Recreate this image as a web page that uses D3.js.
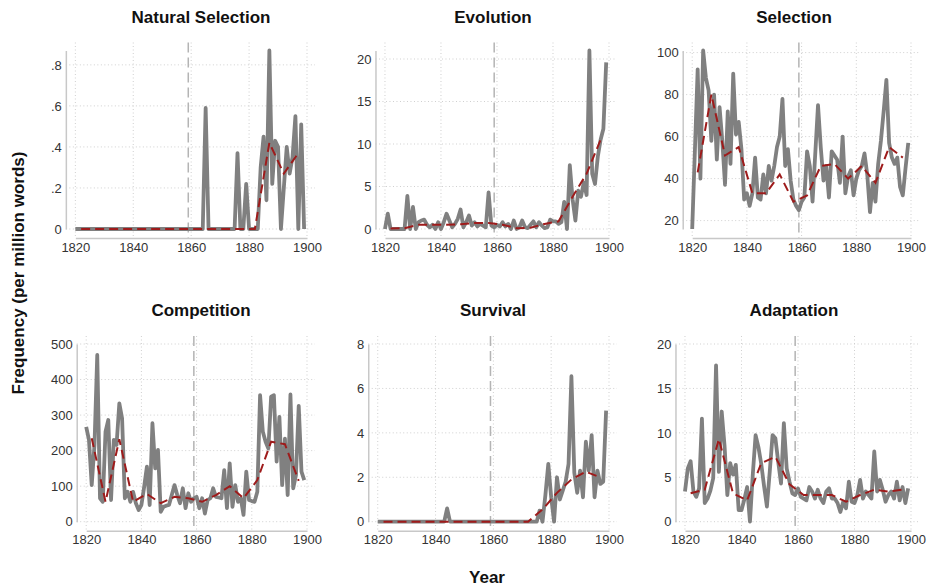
<!DOCTYPE html>
<html>
<head>
<meta charset="utf-8">
<script src="https://cdn.jsdelivr.net/npm/d3@7"></script>
<style>
body { margin: 0; background: #fff; }
text { font-family: Arial, "Liberation Sans", sans-serif; }
</style>
</head>
<body>
<div id="chartArea"></div>
<script>
// yearly frequencies, 1820-1899 (one row per decade)
var years = d3.range(1820, 1900);
// smoothed curve, 5-year bins
var smoothYears = d3.range(1822, 1900, 5);
var xTicks = [1820, 1840, 1860, 1880, 1900];
var originYear = 1859;

var natSel = [
    0, 0, 0, 0, 0, 0, 0, 0, 0, 0,
    0, 0, 0, 0, 0, 0, 0, 0, 0, 0,
    0, 0, 0, 0, 0, 0, 0, 0, 0, 0,
    0, 0, 0, 0, 0, 0, 0, 0, 0, 0,
    0, 0, 0, 0, 0, 0.59, 0, 0, 0, 0,
    0, 0, 0, 0, 0, 0, 0.37, 0, 0, 0.22,
    0, 0, 0, 0, 0.30, 0.45, 0.14, 0.87, 0.22, 0.43,
    0.40, 0, 0.20, 0.40, 0.27, 0.35, 0.55, 0, 0.51, 0
];
var evolution = [
    0, 1.8, 0, 0, 0, 0, 0, 0, 3.9, 0,
    2.6, 0, 0.8, 1.0, 1.1, 0.5, 0.2, 0.5, 0, 0.8,
    0, 0.8, 1.8, 1.0, 0.2, 0.6, 1.2, 2.3, 0.2, 0.8,
    1.6, 0.4, 0.8, 0.3, 0.6, 0.4, 0.2, 4.3, 0.4, 0.2,
    0.5, 0.3, 0.8, 0.3, 0.6, 0, 1.0, 0, 0.2, 1.0,
    0.2, 0.1, 0.5, 0.9, 0.2, 0.8, 0.4, 0.1, 0.2, 1.1,
    0.9, 0.9, 0.6, 0.8, 3.2, 0, 7.5, 3.5, 1.0, 4.5,
    3.8, 5.5, 4.0, 21, 6.5, 5.3, 8.5, 10.5, 11.8, 19.6
];
var selection = [
    16, 54, 92, 40, 101, 88, 82, 58, 80, 49,
    74, 58, 37, 72, 47, 90, 61, 67, 54, 30,
    33, 27, 33, 50, 31, 30, 42, 33, 46, 39,
    46, 55, 60, 78, 46, 54, 39, 30, 27, 25,
    29, 31, 53, 46, 29, 52, 75, 55, 39, 46,
    31, 53, 51, 49, 38, 60, 33, 41, 44, 32,
    40, 44, 46, 52, 42, 24, 38, 29, 47, 58,
    72, 87, 57, 50, 47, 50, 36, 32, 45, 57
];
var competition = [
    267, 230, 103, 216, 469, 66, 56, 253, 286, 61,
    230, 216, 333, 291, 66, 84, 56, 84, 52, 33,
    47, 98, 155, 47, 277, 150, 202, 28, 42, 45,
    47, 75, 103, 75, 52, 94, 38, 80, 56, 66,
    70, 38, 66, 23, 61, 66, 94, 70, 68, 66,
    145, 38, 164, 42, 103, 56, 66, 19, 141, 61,
    58, 56, 84, 356, 253, 225, 206, 352, 356, 169,
    295, 103, 234, 75, 358, 94, 131, 326, 141, 117
];
var survival = [
    0, 0, 0, 0, 0, 0, 0, 0, 0, 0,
    0, 0, 0, 0, 0, 0, 0, 0, 0, 0,
    0, 0, 0, 0, 0.6, 0, 0, 0, 0, 0,
    0, 0, 0, 0, 0, 0, 0, 0, 0, 0,
    0, 0, 0, 0, 0, 0, 0, 0, 0, 0,
    0, 0, 0, 0, 0, 0, 0.5, 0, 1.2, 2.6,
    1.1, 0, 2.0, 1.0, 1.4, 1.8, 2.6, 6.55, 2.2, 1.3,
    2.3, 1.1, 3.6, 2.3, 3.9, 1.1, 2.3, 1.7, 1.8, 5.0
];
var adaptation = [
    3.4, 6.0, 6.8, 3.4, 2.8, 3.75, 11.6, 2.1, 2.6, 3.5,
    4.9, 17.6, 5.6, 12.4, 8.6, 3.0, 6.6, 5.3, 6.4, 1.3,
    1.3, 2.5, 3.9, 0, 5.3, 9.75, 8.4, 6.5, 4.0, 1.7,
    5.6, 9.75, 9.4, 6.75, 4.3, 11.1, 6.0, 4.5, 3.2, 3.0,
    3.75, 2.8, 2.6, 2.4, 3.9, 3.4, 2.6, 3.6, 2.6, 2.1,
    3.4, 3.75, 2.6, 2.6, 2.1, 1.1, 2.25, 1.5, 4.5, 2.25,
    2.1, 3.0, 4.7, 2.6, 3.4, 3.0, 2.6, 7.9, 3.4, 4.7,
    3.6, 2.25, 3.0, 3.4, 2.6, 4.5, 2.4, 3.9, 2.1, 3.75
];

var natSelSmooth = [0, 0, 0, 0, 0, 0, 0, 0, 0, 0, 0, 0, 0, 0.42, 0.27, 0.37];
var evolutionSmooth = [0.05, 0.1, 0.5, 0.5, 0.5, 0.55, 0.7, 0.7, 0.5, 0.1, 0.15, 0.6, 0.9, 3.8, 6.5, 10.5];
var selectionSmooth = [43, 80, 51, 55, 33, 33, 42, 29, 32, 46, 47, 40, 46, 38, 55, 50];
var competitionSmooth = [235, 56, 232, 56, 78, 52, 70, 66, 56, 75, 100, 66, 117, 225, 218, 115];
var survivalSmooth = [0, 0, 0, 0, 0, 0, 0, 0, 0, 0, 0, 0.55, 1.3, 1.9, 2.25, 2.0];
var adaptationSmooth = [3.2, 3.6, 9.3, 3.2, 2.4, 6.6, 7.3, 4.2, 3.0, 3.0, 3.0, 2.25, 3.0, 3.6, 3.4, 3.6];

var titles = ['Natural Selection', 'Evolution', 'Selection', 'Competition', 'Survival', 'Adaptation'];
var yTicks = [
    [0, 0.2, 0.4, 0.6, 0.8],
    [0, 5, 10, 15, 20],
    [20, 40, 60, 80, 100],
    [0, 100, 200, 300, 400, 500],
    [0, 2, 4, 6, 8],
    [0, 5, 10, 15, 20]
];
var series = [natSel, evolution, selection, competition, survival, adaptation];
var smooths = [natSelSmooth, evolutionSmooth, selectionSmooth, competitionSmooth, survivalSmooth, adaptationSmooth];

var w = 927, h = 588;

var svg = d3.select('#chartArea').append('svg')
    .attr('width', w)
    .attr('height', h);

// layout of the 3x2 grid
var colLabelLeft = [51, 357, 657];
var colRight = [307, 609, 911];
var colTitle = [201, 493, 794];
var rowTop = [50.5, 344];
var rowBottom = [229, 521.7];
var rowTitle = [23, 316];

var fmtY = function (d) {
    return d3.format('~g')(d).replace(/^0\./, '.');
};

titles.forEach(function (title, i) {
    var col = i % 3, row = Math.floor(i / 3);
    var values = series[i], ticks = yTicks[i];
    var g = svg.append('g');

    var yScale = d3.scaleLinear()
        .domain([Math.min(d3.min(values), ticks[0]), Math.max(d3.max(values), ticks[ticks.length - 1])])
        .range([rowBottom[row], rowTop[row]]);

    var regionTop = rowTop[row] - 8;
    var axisY = rowBottom[row] + 9;

    // y labels first, so the plot can start right after them
    var gy = g.append('g')
        .call(d3.axisLeft(yScale).tickValues(ticks).tickSize(0).tickPadding(4).tickFormat(fmtY));
    gy.selectAll('text').style('font-size', '13px').attr('fill', '#333');
    var labW = d3.max(gy.selectAll('text').nodes(), function (n) { return n.getComputedTextLength(); });
    var axisX = colLabelLeft[col] + labW + 4;
    gy.attr('transform', 'translate(' + axisX + ',0)');
    gy.select('.domain').attr('stroke', '#c8c8c8').attr('stroke-width', 1.5);

    var xScale = d3.scaleLinear()
        .domain([1820, 1900])
        .range([axisX + 9.5, colRight[col]]);

    var grid = g.insert('g', ':first-child');
    grid.selectAll('.hg').data(ticks).enter().append('line')
        .attr('x1', axisX).attr('x2', colRight[col] + 8)
        .attr('y1', function (d) { return yScale(d); })
        .attr('y2', function (d) { return yScale(d); })
        .attr('stroke', '#cfcfcf').attr('stroke-dasharray', '1,2.5');
    grid.selectAll('.vg').data(xTicks).enter().append('line')
        .attr('x1', function (d) { return xScale(d); })
        .attr('x2', function (d) { return xScale(d); })
        .attr('y1', regionTop).attr('y2', axisY)
        .attr('stroke', '#cfcfcf').attr('stroke-dasharray', '1,2.5');

    g.append('line')
        .attr('x1', xScale(originYear)).attr('x2', xScale(originYear))
        .attr('y1', regionTop).attr('y2', axisY)
        .attr('stroke', '#b4b4b4').attr('stroke-width', 1.5)
        .attr('stroke-dasharray', '10,5');

    var gx = g.append('g')
        .attr('transform', 'translate(0,' + axisY + ')')
        .call(d3.axisBottom(xScale).tickValues(xTicks).tickSize(0).tickPadding(4.5).tickFormat(d3.format('d')));
    gx.selectAll('text').style('font-size', '13px').attr('fill', '#333');
    gx.select('.domain').attr('stroke', '#c8c8c8').attr('stroke-width', 1.5);

    var line = d3.line()
        .x(function (d, j) { return xScale(years[j]); })
        .y(function (d) { return yScale(d); });
    var smoothLine = d3.line()
        .x(function (d, j) { return xScale(smoothYears[j]); })
        .y(function (d) { return yScale(d); });

    g.append('path')
        .datum(values)
        .attr('d', line)
        .attr('fill', 'none')
        .attr('stroke', '#808080')
        .attr('stroke-width', 3.8)
        .attr('stroke-linejoin', 'round');

    g.append('path')
        .datum(smooths[i])
        .attr('d', smoothLine)
        .attr('fill', 'none')
        .attr('stroke', '#9e1b1b')
        .attr('stroke-width', 2)
        .attr('stroke-dasharray', '9,5');

    g.append('text')
        .attr('x', colTitle[col]).attr('y', rowTitle[row])
        .attr('text-anchor', 'middle')
        .style('font-size', '17px').style('font-weight', 'bold')
        .attr('fill', '#111')
        .text(title);
});

svg.append('text')
    .attr('transform', 'translate(24,273) rotate(-90)')
    .attr('text-anchor', 'middle')
    .style('font-size', '17px').style('font-weight', 'bold')
    .attr('fill', '#111')
    .text('Frequency (per million words)');

svg.append('text')
    .attr('x', 487).attr('y', 583)
    .attr('text-anchor', 'middle')
    .style('font-size', '17px').style('font-weight', 'bold')
    .attr('fill', '#111')
    .text('Year');
</script>
</body>
</html>
